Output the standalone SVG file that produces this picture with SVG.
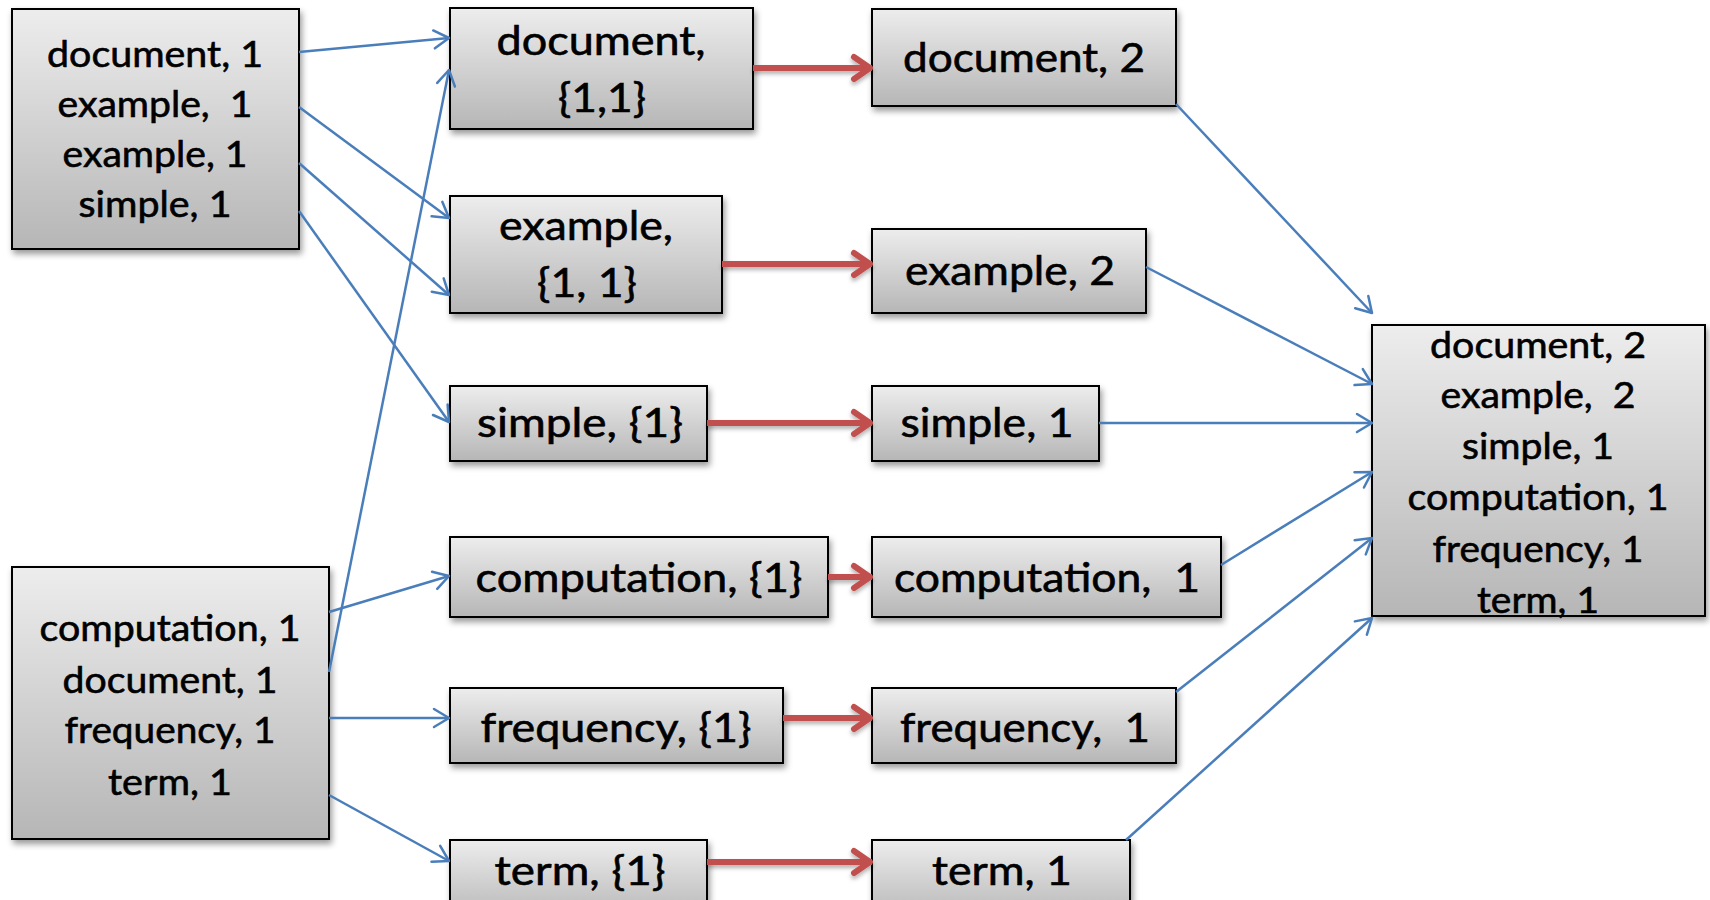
<svg xmlns="http://www.w3.org/2000/svg" width="1710" height="900" viewBox="0 0 1710 900">
  <defs>
    <linearGradient id="boxFill" x1="0" y1="0" x2="0" y2="1">
      <stop offset="0" stop-color="#ededed"/>
      <stop offset="1" stop-color="#b6b6b6"/>
    </linearGradient>
    <filter id="shadow" x="-10%" y="-10%" width="130%" height="140%">
      <feDropShadow dx="2" dy="4" stdDeviation="3" flood-color="#000" flood-opacity="0.4"/>
    </filter>
    <!-- horizontal lines have a zero-height bbox, so the shadow region is given in user space -->
    <filter id="redShadow" filterUnits="userSpaceOnUse" x="0" y="0" width="1710" height="900">
      <feDropShadow dx="0" dy="3" stdDeviation="2" flood-color="#000" flood-opacity="0.3"/>
    </filter>
    <marker id="blueHead" markerUnits="userSpaceOnUse" markerWidth="30" markerHeight="30" viewBox="-20 -15 30 30" refX="0" refY="0" orient="auto" overflow="visible">
      <path d="M-15,-9 L0,0 L-15,9" fill="none" stroke="#4a7ebb" stroke-width="2.5" stroke-linecap="round" stroke-linejoin="round"/>
    </marker>
    <marker id="redHead" markerUnits="userSpaceOnUse" markerWidth="40" markerHeight="40" viewBox="-25 -20 40 40" refX="0" refY="0" orient="auto" overflow="visible">
      <path d="M-18,-11 L-2,0 L-18,11" fill="none" stroke="#c0504d" stroke-width="6" stroke-linecap="round" stroke-linejoin="round"/>
    </marker>
  </defs>
  <style>
    .box { fill: url(#boxFill); stroke: #000; stroke-width: 2; filter: url(#shadow); }
    .t { font-family: Lato, "Liberation Sans", sans-serif; fill: #000; stroke: #000; stroke-width: 0.6; text-anchor: middle; white-space: pre; }
    .m { font-size: 37px; }
    .s { font-size: 41px; }
    .blue { fill: none; stroke: #4a7ebb; stroke-width: 2.5; marker-end: url(#blueHead); }
    .red { fill: none; stroke: #c0504d; stroke-width: 6; marker-end: url(#redHead); }
  </style>

  <!-- input splits -->
  <g id="split1">
    <rect class="box" x="12" y="9" width="287" height="240"/>
    <text class="t m" x="155" y="67" textLength="216" lengthAdjust="spacingAndGlyphs">document, 1</text>
    <text class="t m" x="155" y="117" textLength="195" lengthAdjust="spacingAndGlyphs">example,  1</text>
    <text class="t m" x="155" y="167" textLength="185" lengthAdjust="spacingAndGlyphs">example, 1</text>
    <text class="t m" x="155" y="217" textLength="153" lengthAdjust="spacingAndGlyphs">simple, 1</text>
  </g>
  <g id="split2">
    <rect class="box" x="12" y="567" width="317" height="272"/>
    <text class="t m" x="170" y="641" textLength="261" lengthAdjust="spacingAndGlyphs">computation, 1</text>
    <text class="t m" x="170" y="693" textLength="215" lengthAdjust="spacingAndGlyphs">document, 1</text>
    <text class="t m" x="170" y="743" textLength="211" lengthAdjust="spacingAndGlyphs">frequency, 1</text>
    <text class="t m" x="170" y="795" textLength="124" lengthAdjust="spacingAndGlyphs">term, 1</text>
  </g>

  <!-- grouped values -->
  <g id="group-document">
    <rect class="box" x="450" y="8" width="303" height="121"/>
    <text class="t s" x="601" y="55" textLength="209" lengthAdjust="spacingAndGlyphs">document,</text>
    <text class="t s" x="602" y="112" textLength="88" lengthAdjust="spacingAndGlyphs">{1,1}</text>
  </g>
  <g id="group-example">
    <rect class="box" x="450" y="196" width="272" height="117"/>
    <text class="t s" x="586" y="240" textLength="174" lengthAdjust="spacingAndGlyphs">example,</text>
    <text class="t s" x="587" y="297" textLength="100" lengthAdjust="spacingAndGlyphs">{1, 1}</text>
  </g>
  <g id="group-simple">
    <rect class="box" x="450" y="386" width="257" height="75"/>
    <text class="t s" x="580" y="437" textLength="206" lengthAdjust="spacingAndGlyphs">simple, {1}</text>
  </g>
  <g id="group-computation">
    <rect class="box" x="450" y="537" width="378" height="80"/>
    <text class="t s" x="639" y="592" textLength="327" lengthAdjust="spacingAndGlyphs">computation, {1}</text>
  </g>
  <g id="group-frequency">
    <rect class="box" x="450" y="688" width="333" height="75"/>
    <text class="t s" x="616" y="742" textLength="271" lengthAdjust="spacingAndGlyphs">frequency, {1}</text>
  </g>
  <g id="group-term">
    <rect class="box" x="450" y="840" width="257" height="80"/>
    <text class="t s" x="580" y="885" textLength="171" lengthAdjust="spacingAndGlyphs">term, {1}</text>
  </g>

  <!-- reduced counts -->
  <g id="reduce-document">
    <rect class="box" x="872" y="9" width="304" height="97"/>
    <text class="t s" x="1024" y="72" textLength="242" lengthAdjust="spacingAndGlyphs">document, 2</text>
  </g>
  <g id="reduce-example">
    <rect class="box" x="872" y="229" width="274" height="84"/>
    <text class="t s" x="1010" y="285" textLength="210" lengthAdjust="spacingAndGlyphs">example, 2</text>
  </g>
  <g id="reduce-simple">
    <rect class="box" x="872" y="386" width="227" height="75"/>
    <text class="t s" x="987" y="437" textLength="173" lengthAdjust="spacingAndGlyphs">simple, 1</text>
  </g>
  <g id="reduce-computation">
    <rect class="box" x="872" y="537" width="349" height="80"/>
    <text class="t s" x="1047" y="592" textLength="306" lengthAdjust="spacingAndGlyphs">computation,  1</text>
  </g>
  <g id="reduce-frequency">
    <rect class="box" x="872" y="688" width="304" height="75"/>
    <text class="t s" x="1025" y="742" textLength="250" lengthAdjust="spacingAndGlyphs">frequency,  1</text>
  </g>
  <g id="reduce-term">
    <rect class="box" x="872" y="840" width="258" height="80"/>
    <text class="t s" x="1002" y="885" textLength="140" lengthAdjust="spacingAndGlyphs">term, 1</text>
  </g>

  <!-- final output -->
  <g id="output">
    <rect class="box" x="1372" y="325" width="333" height="291"/>
    <text class="t m" x="1538" y="358" textLength="216" lengthAdjust="spacingAndGlyphs">document, 2</text>
    <text class="t m" x="1538" y="408" textLength="195" lengthAdjust="spacingAndGlyphs">example,  2</text>
    <text class="t m" x="1538" y="459" textLength="152" lengthAdjust="spacingAndGlyphs">simple, 1</text>
    <text class="t m" x="1538" y="510" textLength="261" lengthAdjust="spacingAndGlyphs">computation, 1</text>
    <text class="t m" x="1538" y="562" textLength="211" lengthAdjust="spacingAndGlyphs">frequency, 1</text>
    <text class="t m" x="1538" y="613" textLength="122" lengthAdjust="spacingAndGlyphs">term, 1</text>
  </g>

  <g id="connectors">
    <!-- map output to grouping -->
    <line class="blue" x1="299" y1="52" x2="449" y2="38"/>
    <line class="blue" x1="299" y1="107" x2="449" y2="218"/>
    <line class="blue" x1="299" y1="163" x2="449" y2="295"/>
    <line class="blue" x1="299" y1="211" x2="449" y2="422"/>
    <line class="blue" x1="329" y1="672" x2="449" y2="70"/>
    <line class="blue" x1="329" y1="612" x2="449" y2="576"/>
    <line class="blue" x1="329" y1="718" x2="449" y2="718"/>
    <line class="blue" x1="329" y1="795" x2="449" y2="861"/>
    <!-- reduce steps -->
    <g id="reduce-arrows" filter="url(#redShadow)">
      <line class="red" x1="753" y1="68" x2="872" y2="68"/>
      <line class="red" x1="722" y1="264" x2="872" y2="264"/>
      <line class="red" x1="707" y1="423" x2="872" y2="423"/>
      <line class="red" x1="828" y1="577" x2="872" y2="577"/>
      <line class="red" x1="783" y1="718" x2="872" y2="718"/>
      <line class="red" x1="707" y1="862" x2="872" y2="862"/>
    </g>
    <!-- merge into final output -->
    <line class="blue" x1="1176" y1="104" x2="1372" y2="313"/>
    <line class="blue" x1="1146" y1="267" x2="1372" y2="384"/>
    <line class="blue" x1="1099" y1="423" x2="1372" y2="423"/>
    <line class="blue" x1="1221" y1="565" x2="1372" y2="472"/>
    <line class="blue" x1="1176" y1="692" x2="1372" y2="538"/>
    <line class="blue" x1="1126" y1="840" x2="1372" y2="618"/>
  </g>
</svg>
